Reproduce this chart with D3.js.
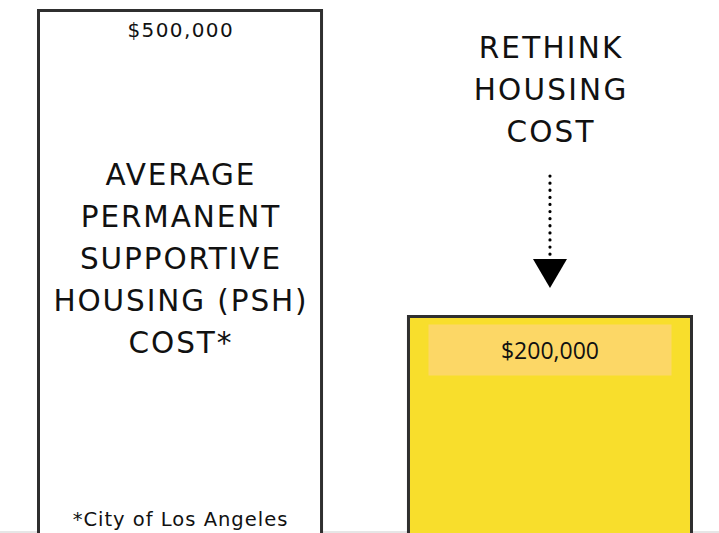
<!DOCTYPE html>
<html>
<head>
<meta charset="utf-8">
<script src="https://cdn.jsdelivr.net/npm/d3@7"></script>
<style>
  body { margin: 0; background: #fff; }
  svg { display: block; }
</style>
</head>
<body>
<svg id="chart"></svg>
<script>
// data
var categories = ["psh", "rethink"]
var costs = [500000, 200000]
var valueLabels = ["$500,000", "$200,000"]
var leftTitle = ["AVERAGE", "PERMANENT", "SUPPORTIVE", "HOUSING (PSH)", "COST*"]
var rightTitle = ["RETHINK", "HOUSING", "COST"]
var footnote = "*City of Los Angeles"

const w = 719, h = 533
var titleFont = "'DejaVu Sans', sans-serif"

var svg = d3.select("#chart")
  .attr("width", w)
  .attr("height", h)

var x = d3.scaleBand().domain(categories).range([38.5, 691.5]).paddingInner(0.235)
var y = d3.scaleLinear().domain([0, 500000]).range([520.5, 10.5])

// bottom faint line
svg.append("line")
  .attr("x1", 0).attr("x2", w)
  .attr("y1", 532).attr("y2", 532)
  .style("stroke", "#e6e6e6")
  .style("stroke-width", 2)

svg.selectAll(".bar")
  .data(costs)
  .enter()
  .append("rect")
  .attr("class", "bar")
  .attr("x", function(d, i){ return x(categories[i]) })
  .attr("y", function(d){ return y(d) })
  .attr("width", x.bandwidth())
  .attr("height", function(d){ return h + 10 - y(d) })
  .style("fill", function(d, i){ return i == 0 ? "#fff" : "#f8de2c" })
  .style("stroke", "#2f2f2f")
  .style("stroke-width", 3)

// helper for spaced text (letter-spacing adds a trailing gap, shift by half)
function label(sel, size, ls){
  return sel.style("font-family", titleFont)
    .style("font-size", size + "px")
    .style("letter-spacing", ls + "px")
    .attr("text-anchor", "middle")
    .attr("dx", ls / 2)
    .style("fill", "#111")
}

// left value label
var lx = x(categories[0]) + x.bandwidth() / 2
svg.append("text")
  .attr("x", lx).attr("y", 37)
  .call(label, 20, 1.4)
  .text(valueLabels[0])

svg.append("g")
  .selectAll("text")
  .data(leftTitle)
  .enter()
  .append("text")
  .attr("x", lx)
  .attr("y", function(d, i){ return 185 + i * 42 })
  .call(label, 29.5, 1.9)
  .text(function(d){ return d })

svg.append("text")
  .attr("x", lx).attr("y", 526)
  .call(label, 19.5, 1)
  .text(footnote)

// right side
var rx = x(categories[1]) + x.bandwidth() / 2
svg.append("g")
  .selectAll("text")
  .data(rightTitle)
  .enter()
  .append("text")
  .attr("x", rx)
  .attr("y", function(d, i){ return 58 + i * 42 })
  .call(label, 29.5, 2.2)
  .text(function(d){ return d })

// dotted arrow
svg.append("line")
  .attr("x1", rx).attr("x2", rx)
  .attr("y1", 176).attr("y2", 258)
  .style("stroke", "#000")
  .style("stroke-width", 3.2)
  .style("stroke-linecap", "round")
  .style("stroke-dasharray", "0.1 7")

svg.append("path")
  .attr("d", "M" + (rx - 17) + ",259 L" + (rx + 17) + ",259 L" + rx + ",288 Z")
  .style("fill", "#000")

// inner label box
var by = y(costs[1])
svg.append("rect")
  .attr("x", x(categories[1]) + 20)
  .attr("y", by + 8)
  .attr("width", x.bandwidth() - 40)
  .attr("height", 51)
  .style("fill", "#fcd766")

svg.append("text")
  .attr("x", rx).attr("y", by + 42.5)
  .attr("text-anchor", "middle")
  .style("font-family", "'Open Sans', sans-serif")
  .style("font-size", "23px")
  .style("fill", "#111")
  .text(valueLabels[1])
</script>
</body>
</html>
